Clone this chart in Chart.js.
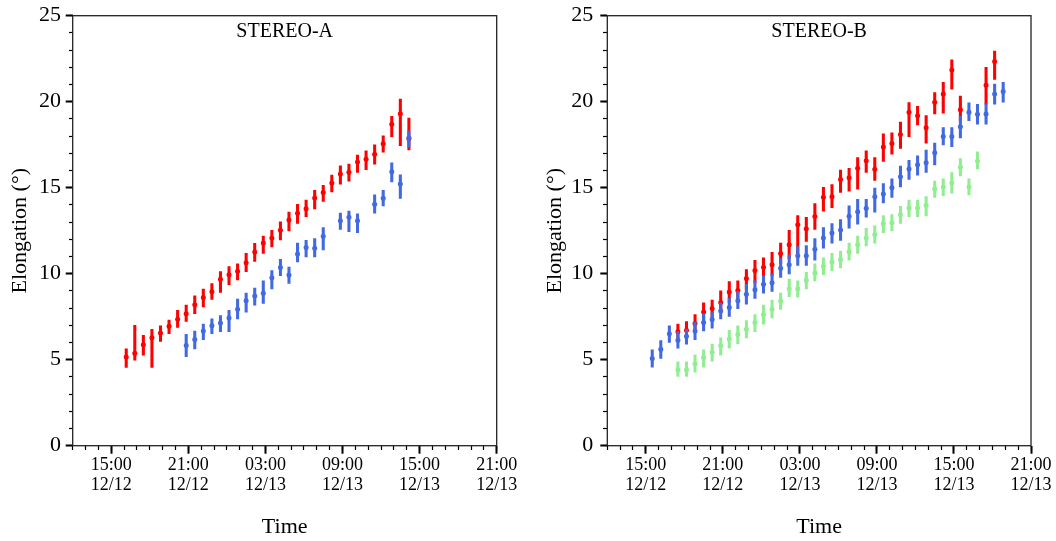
<!DOCTYPE html>
<html>
<head>
<meta charset="utf-8">
<script src="https://cdn.jsdelivr.net/npm/chart.js@4.4.1/dist/chart.umd.min.js"></script>
<style>
  body { margin: 0; background: #fff; }
  canvas { position: absolute; top: 0; }
</style>
</head>
<body>
<canvas id="stereo-a" width="530" height="541" style="left:0"></canvas>
<canvas id="stereo-b" width="526" height="541" style="left:530px"></canvas>
<script>
// Axis ticks (x is hours counted from 12/12 00:00)
const tickHours = [15, 21, 27, 33, 39, 45];
const tickTimeLabels = ['15:00', '21:00', '03:00', '09:00', '15:00', '21:00'];
const tickDateLabels = ['12/12', '12/12', '12/13', '12/13', '12/13', '12/13'];

// STEREO-A
const timesA = ['12/12 16:10', '12/12 16:50', '12/12 17:30', '12/12 18:10', '12/12 18:50', '12/12 19:30',
  '12/12 20:10', '12/12 20:50', '12/12 21:30', '12/12 22:10', '12/12 22:50', '12/12 23:30',
  '12/13 00:10', '12/13 00:50', '12/13 01:30', '12/13 02:10', '12/13 02:50', '12/13 03:30',
  '12/13 04:10', '12/13 04:50', '12/13 05:30', '12/13 06:10', '12/13 06:50', '12/13 07:30',
  '12/13 08:10', '12/13 08:50', '12/13 09:30', '12/13 10:10', '12/13 10:50', '12/13 11:30',
  '12/13 12:10', '12/13 12:50', '12/13 13:30', '12/13 14:10'];
const redA = [5.15, 5.37, 5.87, 6.27, 6.55, 6.95, 7.35, 7.67, 8.19, 8.61, 8.95, 9.68, 9.94, 10.14, 10.64, 11.26, 11.78,
  12.08, 12.52, 13.12, 13.52, 13.78, 14.40, 14.72, 15.28, 15.79, 15.90, 16.49, 16.65, 16.95, 17.55, 18.69, 19.30, 17.85];
const redALow = [4.55, 4.97, 5.27, 4.55, 6.07, 6.51, 6.87, 7.23, 7.67, 8.07, 8.51, 8.91, 9.36, 9.64, 10.12, 10.72, 11.18,
  11.56, 11.96, 12.48, 12.92, 13.32, 13.76, 14.20, 14.76, 15.20, 15.38, 15.89, 16.05, 16.37, 17.07, 17.97, 17.45, 17.20];
const redAHigh = [5.63, 7.00, 6.41, 6.77, 6.97, 7.31, 7.87, 8.17, 8.71, 9.11, 9.43, 10.12, 10.42, 10.58, 11.18, 11.76, 12.18,
  12.52, 13.02, 13.58, 14.04, 14.28, 14.84, 15.14, 15.73, 16.27, 16.37, 16.89, 17.15, 17.49, 18.01, 19.15, 20.15, 19.05];
const blueA = [null, null, null, null, null, null, null, 5.83, 6.17, 6.67, 6.97, 7.13, 7.43, 7.93, 8.43, 8.71, 8.87,
  9.76, 10.36, 9.92, 11.14, 11.52, 11.48, 12.18, null, 13.08, 13.28, 13.08, null, 14.04, 14.38, 15.93, 15.22, 17.90];
const blueALow = [null, null, null, null, null, null, null, 5.17, 5.63, 6.17, 6.51, 6.63, 6.63, 7.37, 7.77, 8.17, 8.27,
  9.12, 9.88, 9.44, 10.68, 10.98, 10.98, 11.38, null, 12.58, 12.44, 12.38, null, 13.52, 13.94, 15.34, 14.38, 17.35];
const blueAHigh = [null, null, null, null, null, null, null, 6.47, 6.67, 7.07, 7.37, 7.57, 7.87, 8.53, 8.87, 9.17, 9.58,
  10.18, 10.84, 10.38, 11.78, 11.94, 12.04, 12.68, null, 13.52, 13.64, 13.48, null, 14.58, 14.84, 16.45, 15.75, 18.30];

// STEREO-B
const timesB = ['12/12 15:30', '12/12 16:10', '12/12 16:50', '12/12 17:30', '12/12 18:10', '12/12 18:50',
  '12/12 19:30', '12/12 20:10', '12/12 20:50', '12/12 21:30', '12/12 22:10', '12/12 22:50',
  '12/12 23:30', '12/13 00:10', '12/13 00:50', '12/13 01:30', '12/13 02:10', '12/13 02:50',
  '12/13 03:30', '12/13 04:10', '12/13 04:50', '12/13 05:30', '12/13 06:10', '12/13 06:50',
  '12/13 07:30', '12/13 08:10', '12/13 08:50', '12/13 09:30', '12/13 10:10', '12/13 10:50',
  '12/13 11:30', '12/13 12:10', '12/13 12:50', '12/13 13:30', '12/13 14:10', '12/13 14:50',
  '12/13 15:30', '12/13 16:10', '12/13 16:50', '12/13 17:30', '12/13 18:10', '12/13 18:50'];
const redB = [null, null, null, 6.63, 6.71, 7.11, 7.77, 7.97, 8.33, 8.93, 9.03, 9.72, 10.18, 10.38, 10.52, 11.18, 11.68,
  12.84, 12.62, 13.32, 14.44, 14.48, 15.48, 15.58, 16.13, 16.57, 16.07, 17.37, 17.57, 18.09, 19.39, 19.19, 18.49,
  19.97, 20.45, 21.84, 19.53, null, null, 20.95, 22.34, null];
const redBLow = [null, null, null, 6.07, 6.17, 6.57, 7.17, 7.47, 7.77, 8.31, 8.47, 9.07, 9.48, 9.72, 9.88, 10.58, 10.88,
  11.06, 11.88, 12.58, 13.64, 13.84, 14.72, 14.80, 14.92, 15.89, 15.42, 16.53, 16.95, 17.29, 17.97, 18.65, 17.59,
  19.29, 19.33, 20.73, 18.89, null, null, 19.85, 21.29, null];
const redBHigh = [null, null, null, 7.07, 7.21, 7.63, 8.31, 8.47, 9.01, 9.54, 9.58, 10.24, 10.78, 10.92, 11.24, 11.78, 12.52,
  13.38, 13.28, 14.08, 15.02, 15.18, 16.03, 16.13, 16.75, 17.15, 16.75, 18.13, 18.19, 18.81, 19.95, 19.73, 19.19,
  20.53, 21.13, 22.44, 20.33, null, null, 22.00, 22.94, null];
const blueB = [5.07, 5.61, 6.51, 6.13, 6.37, 6.67, 7.17, 7.33, 7.83, 8.03, 8.43, 8.81, 9.07, 9.38, 9.48, 10.32, 10.52,
  11.04, 11.04, 11.42, 12.08, 12.36, 12.54, 13.34, 13.60, 13.80, 14.48, 14.64, 15.00, 15.64, 16.09, 16.33, 16.45,
  17.03, 17.97, 17.97, 18.55, 19.39, 19.27, 19.29, 20.45, 20.59];
const blueBLow = [4.57, 5.07, 6.01, 5.67, 5.91, 6.17, 6.67, 6.83, 7.37, 7.51, 7.97, 8.23, 8.57, 8.87, 8.97, 9.78, 9.98,
  10.48, 10.48, 10.78, 11.48, 11.78, 11.94, 12.64, 12.88, 13.28, 13.58, 14.12, 14.44, 15.04, 15.48, 15.73, 15.89,
  16.33, 17.49, 17.39, 17.89, 18.89, 18.69, 18.69, 19.85, 19.97];
const blueBHigh = [5.57, 6.11, 6.97, 6.63, 6.77, 7.17, 7.67, 7.77, 8.31, 8.57, 8.97, 9.38, 9.58, 9.88, 9.98, 10.88, 11.08,
  11.58, 11.64, 12.04, 12.68, 12.92, 13.14, 13.94, 14.32, 14.32, 14.98, 15.24, 15.52, 16.25, 16.59, 16.85, 17.19,
  17.59, 18.49, 18.49, 19.15, 19.93, 19.85, 19.89, 21.03, 21.13];
const greenB = [null, null, null, 4.41, 4.41, 4.77, 5.13, 5.43, 5.81, 6.21, 6.47, 6.77, 7.17, 7.63, 7.93, 8.41, 9.13,
  9.13, 9.62, 10.04, 10.44, 10.68, 10.82, 11.28, 11.68, 12.08, 12.28, 12.92, 12.96, 13.44, 13.82, 13.82, 13.98,
  14.92, 15.04, 15.28, 16.19, 15.04, 16.55, null, null, null];
const greenBLow = [null, null, null, 4.03, 4.03, 4.27, 4.57, 4.91, 5.27, 5.67, 5.93, 6.27, 6.63, 7.07, 7.43, 7.93, 8.67,
  8.63, 9.12, 9.58, 9.94, 10.18, 10.34, 10.78, 11.18, 11.62, 11.78, 12.38, 12.48, 12.92, 13.32, 13.32, 13.36,
  14.44, 14.54, 14.68, 15.69, 14.58, 16.09, null, null, null];
const greenBHigh = [null, null, null, 4.87, 4.87, 5.27, 5.57, 5.91, 6.27, 6.71, 6.97, 7.27, 7.63, 8.17, 8.47, 8.87, 9.68,
  9.58, 10.08, 10.58, 10.92, 11.18, 11.32, 11.78, 12.18, 12.64, 12.78, 13.38, 13.44, 13.92, 14.28, 14.28, 14.48,
  15.38, 15.52, 15.88, 16.69, 15.52, 17.09, null, null, null];

const RED = '#ff0000';
const BLUE = '#4169e1';
const GREEN = '#90ee90';
const FONT = '"Liberation Serif", "Times New Roman", serif';

Chart.defaults.color = '#000';
Chart.defaults.font.family = FONT;

// '12/13 04:10' -> hours since 12/12 00:00
function toHours(s) {
  const day = parseInt(s.slice(3, 5), 10);
  const hh = parseInt(s.slice(6, 8), 10);
  const mm = parseInt(s.slice(9, 11), 10);
  return (day - 12) * 24 + hh + mm / 60;
}

// error bar (floating bar) + dot for one series
function series(times, vals, lows, highs, color, order) {
  const pts = [];
  times.forEach((t, i) => {
    if (vals[i] !== null) pts.push({ x: toHours(t), v: vals[i], lo: lows[i], hi: highs[i] });
  });
  return [
    {
      type: 'bar',
      data: pts.map(p => ({ x: p.x, y: [p.lo, p.hi] })),
      backgroundColor: color,
      borderWidth: 0,
      barThickness: 2.4,
      grouped: false,
      order: order + 1
    },
    {
      type: 'scatter',
      data: pts.map(p => ({ x: p.x, y: p.v })),
      pointRadius: 2.5,
      pointBackgroundColor: color,
      pointBorderWidth: 0,
      showLine: false,
      order: order
    }
  ];
}

const framePlugin = {
  id: 'frame',
  afterDraw(chart, args, opts) {
    const { ctx, chartArea: a } = chart;
    ctx.save();
    ctx.strokeStyle = '#222';
    ctx.lineWidth = 1.3;
    ctx.strokeRect(a.left, a.top, a.right - a.left, a.bottom - a.top);
    ctx.fillStyle = '#000';
    ctx.font = '20px ' + FONT;
    ctx.textAlign = 'center';
    ctx.textBaseline = 'middle';
    ctx.fillText(opts.label, (a.left + a.right) / 2, a.top + 16);
    ctx.restore();
  }
};

function makePanel(id, label, datasets, p) {
  return new Chart(document.getElementById(id), {
    type: 'scatter',
    data: { datasets: datasets },
    plugins: [framePlugin],
    options: {
      responsive: false,
      animation: false,
      devicePixelRatio: 1,
      events: [],
      layout: { padding: { left: 0, top: 15.7, right: p.right, bottom: 0 } },
      plugins: { legend: { display: false }, tooltip: { enabled: false }, frame: { label: label } },
      scales: {
        x: {
          type: 'linear', min: 12, max: 45, offset: false,
          afterBuildTicks: s => { s.ticks = tickHours.map(v => ({ value: v })); },
          afterFit: s => { s.height = 95.3; s.paddingLeft = 0; s.paddingRight = 0; },
          ticks: {
            autoSkip: false, maxRotation: 0, padding: 1.3,
            font: { size: 18, lineHeight: 1.11 },
            callback: (v, i) => [tickTimeLabels[i], tickDateLabels[i]]
          },
          grid: { drawOnChartArea: false, offset: false, tickLength: 8, tickWidth: 2, tickColor: '#000' },
          border: { display: false },
          title: { display: true, text: 'Time', font: { size: 22 }, padding: { top: 0, bottom: 0.8 } }
        },
        y: {
          type: 'linear', min: 0, max: 25,
          afterFit: s => { s.width = p.yWidth; s.paddingTop = 0; s.paddingBottom = 0; },
          ticks: { stepSize: 5, padding: p.yPad, font: { size: 22 } },
          grid: { drawOnChartArea: false, tickLength: 7, tickWidth: 2, tickColor: '#000' },
          border: { display: false },
          title: { display: true, text: 'Elongation (°)', font: { size: 22 }, padding: { top: p.titlePad, bottom: 0 } }
        },
        xm: {
          axis: 'x', type: 'linear', min: 12, max: 45, offset: false, position: { y: 0 },
          ticks: { stepSize: 1, display: false, autoSkip: false },
          grid: { drawOnChartArea: false, offset: false, tickLength: 4, tickWidth: 1.2, tickColor: '#000' },
          border: { display: false }
        },
        ym: {
          axis: 'y', type: 'linear', min: 0, max: 25, position: { x: 12 },
          ticks: { stepSize: 1, display: false },
          grid: { drawOnChartArea: false, tickLength: 4, tickWidth: 1.2, tickColor: '#000' },
          border: { display: false }
        }
      }
    }
  });
}

makePanel('stereo-a', 'STEREO-A', [
  ...series(timesA, redA, redALow, redAHigh, RED, 5),
  ...series(timesA, blueA, blueALow, blueAHigh, BLUE, 3)
], { right: 33.3, yWidth: 72.7, yPad: 4.7, titlePad: 6.8 });

makePanel('stereo-b', 'STEREO-B', [
  ...series(timesB, redB, redBLow, redBHigh, RED, 5),
  ...series(timesB, blueB, blueBLow, blueBHigh, BLUE, 3),
  ...series(timesB, greenB, greenBLow, greenBHigh, GREEN, 1)
], { right: 25, yWidth: 77.3, yPad: 7, titlePad: 11.8 });
</script>
</body>
</html>
